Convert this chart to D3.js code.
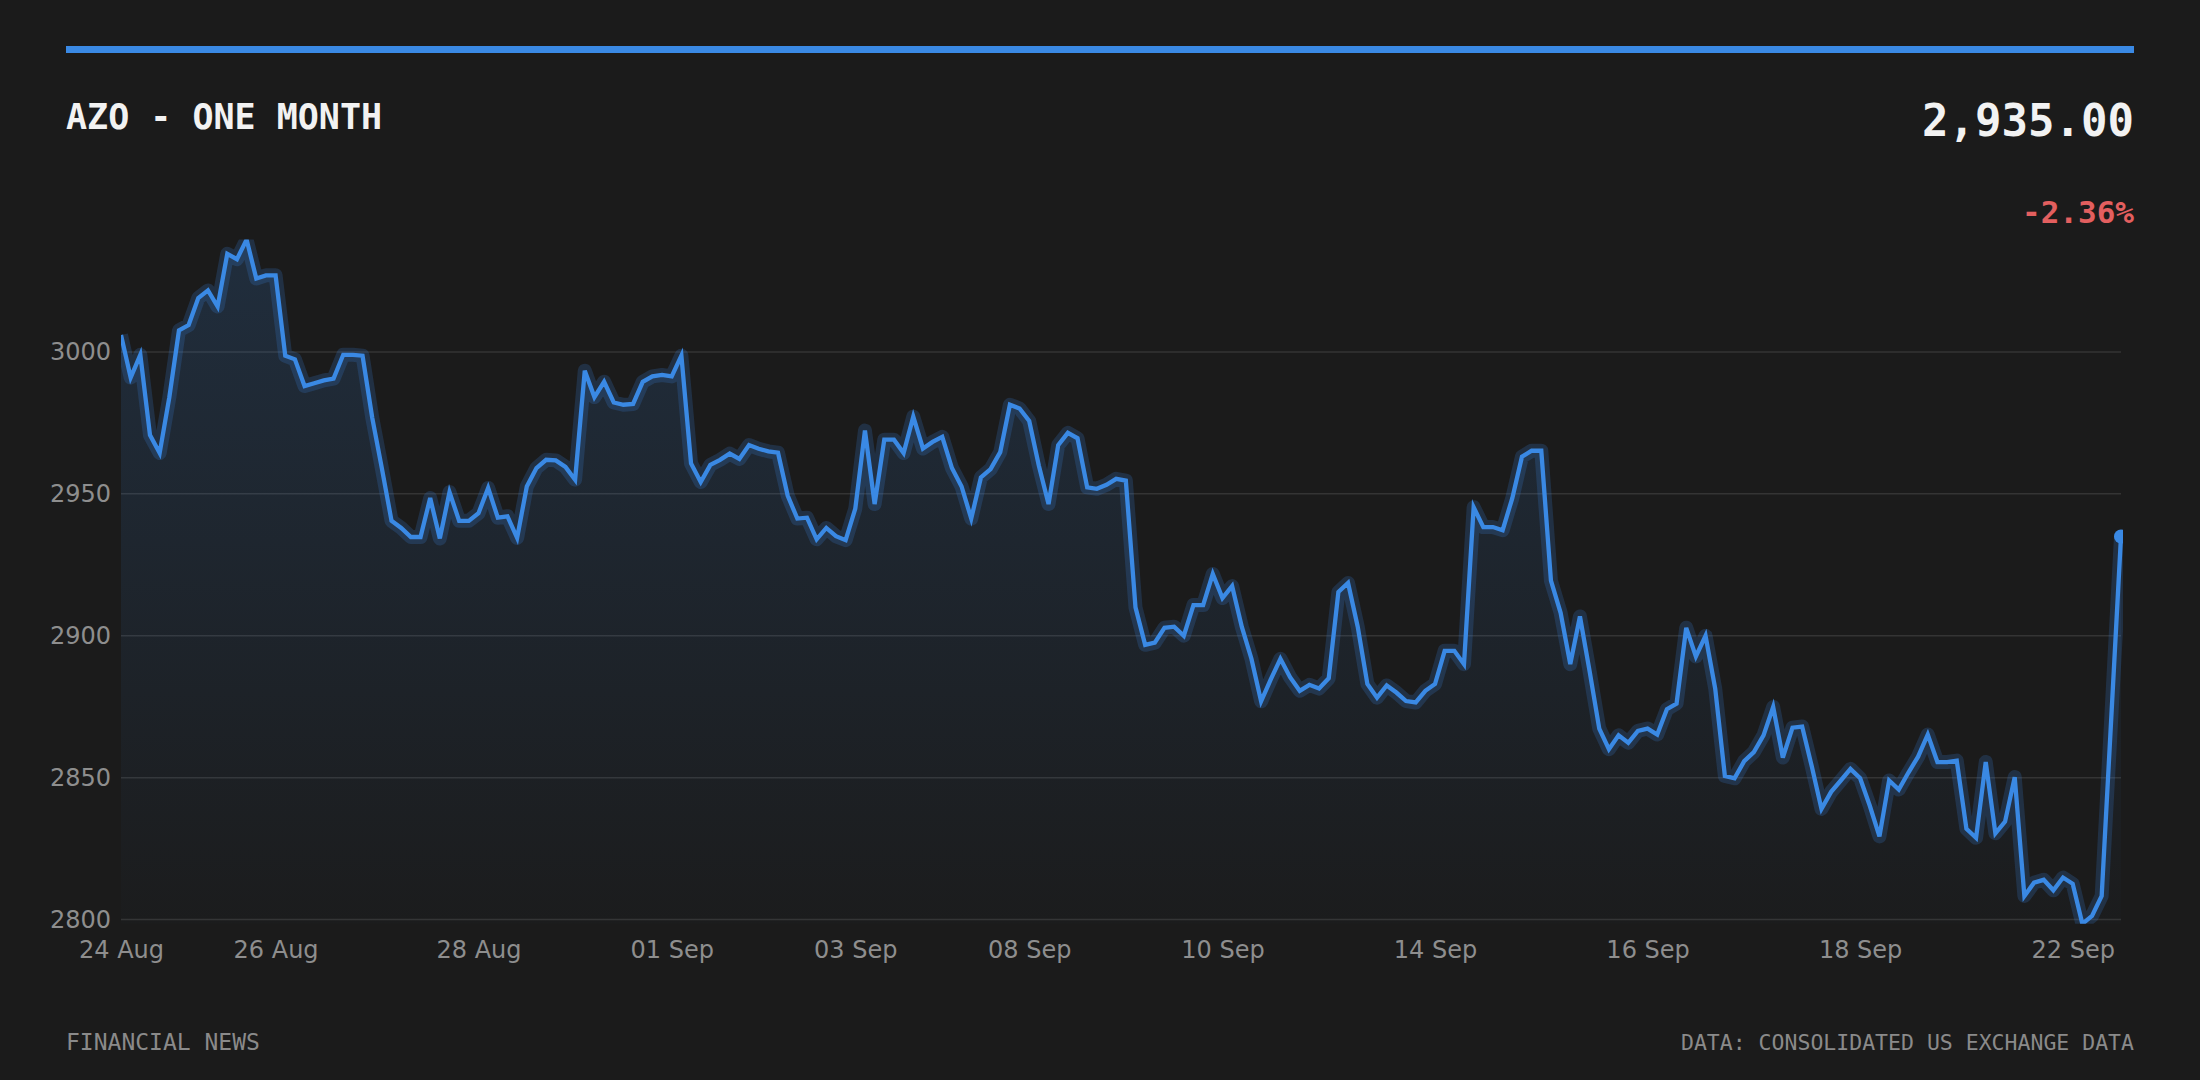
<!DOCTYPE html>
<html>
<head>
<meta charset="utf-8">
<script src="https://cdn.jsdelivr.net/npm/d3@7"></script>
<style>
    html, body { margin: 0; padding: 0; background: #1b1b1b; }
    svg { display: block; }
</style>
</head>
<body>
<svg id="chart"></svg>
<script>
let symbol = 'AZO'
let period = 'ONE MONTH'
let sourceLeft = 'FINANCIAL NEWS'
let sourceRight = 'DATA: CONSOLIDATED US EXCHANGE DATA'

// closing prices, one per sample (about 10 per trading day)
let prices = [
    3006, 2991, 2999, 2970.7, 2964.4, 2984, 3007.6, 3009.5, 3019, 3021.7,
    3016, 3034.6, 3032.7, 3039.6, 3025.9, 3027, 3027, 2998.7, 2997.4, 2988,
    2989, 2990, 2990.6, 2999, 2999, 2998.7, 2976.9, 2959, 2940.5, 2938,
    2934.8, 2934.8, 2948.5, 2934.3, 2950.6, 2940.5, 2940.5, 2943.2, 2952.1, 2941.6,
    2942.1, 2934.5, 2952.6, 2959.1, 2962, 2961.8, 2959.5, 2955, 2993.4, 2984.1,
    2989.5, 2982.2, 2981.4, 2981.7, 2989.5, 2991.4, 2991.9, 2991.4, 2998.7, 2960.7,
    2954.2, 2960.2, 2962, 2964.2, 2962.3, 2967.2, 2965.9, 2965, 2964.5, 2949.4,
    2941.3, 2941.6, 2934, 2938, 2935.1, 2933.7, 2944.8, 2972.3, 2946.4, 2969.1,
    2969.1, 2964.4, 2977.2, 2966, 2968.3, 2970.1, 2959.1, 2952.6, 2941.3, 2955.8,
    2958.7, 2964.7, 2981.4, 2980.1, 2975.7, 2959.9, 2946.4, 2967.2, 2971.5, 2969.6,
    2952.3, 2951.8, 2953.2, 2955.3, 2954.7, 2910, 2896.8, 2897.6, 2902.8, 2903.2,
    2900, 2910.8, 2910.8, 2921.8, 2913.3, 2917.5, 2903.2, 2891.9, 2876.9, 2884.6,
    2891.9, 2885.4, 2880.6, 2882.7, 2881.4, 2885, 2915.4, 2918.6, 2903.2, 2883,
    2878.2, 2882.5, 2880, 2877, 2876.5, 2880.6, 2883, 2894.7, 2894.7, 2890,
    2945.3, 2938.3, 2938.3, 2937.2, 2948.5, 2963.1, 2965.2, 2965.2, 2919.4, 2908.1,
    2890, 2906.8, 2887.5, 2867.3, 2860, 2864.9, 2862.3, 2866.5, 2867.3, 2865.2,
    2874.1, 2876.1, 2902.8, 2892.7, 2900, 2881.4, 2850.6, 2849.8, 2855.8, 2859,
    2864.9, 2874.9, 2857.1, 2867.6, 2868, 2853.9, 2839, 2845, 2849, 2853.1,
    2849.8, 2840.1, 2829.3, 2849, 2845.8, 2851.8, 2857.4, 2865.2, 2855.5, 2855.5,
    2856, 2832, 2828.8, 2855.5, 2830.4, 2834.5, 2850.2, 2808.3, 2813, 2814,
    2810.3, 2814.8, 2812.6, 2798.5, 2801.3, 2808.3, 2871.5, 2935
]

// sample index where each labelled day starts
let tickIndexes = [0, 16, 37, 57, 76, 94, 114, 136, 158, 180, 202]
let tickLabels = ['24 Aug', '26 Aug', '28 Aug', '01 Sep', '03 Sep', '08 Sep',
                  '10 Sep', '14 Sep', '16 Sep', '18 Sep', '22 Sep']

let yTicks = [2800, 2850, 2900, 2950, 3000]

let width = 2200
let height = 1080
let margin = { top: 239.6, right: 79, bottom: 156.2, left: 121 }
let edge = 66

let blue = '#3a89e4'
let mono = '"DejaVu Sans Mono", "Liberation Mono", monospace'
let sans = '"DejaVu Sans", Verdana, sans-serif'

let svg = d3.select('#chart')
let xScale
let yScale

let drawCanvas = () => {
    svg.attr('width', width)
       .attr('height', height)

    svg.append('rect')
        .attr('width', width)
        .attr('height', height)
        .attr('fill', '#1b1b1b')

    // line is cut at the plot edges, like the original
    svg.append('defs')
        .append('clipPath')
        .attr('id', 'plot-clip')
        .append('rect')
        .attr('x', margin.left)
        .attr('y', margin.top)
        .attr('width', width - margin.left - margin.right + 2)
        .attr('height', height - margin.top - margin.bottom)
}

let generateScales = () => {
    xScale = d3.scaleLinear()
                .domain([0, prices.length - 1])
                .range([margin.left, width - margin.right])

    yScale = d3.scaleLinear()
                .domain(d3.extent(prices))
                .range([height - margin.bottom, margin.top])
}

let drawHeader = () => {
    svg.append('rect')
        .attr('x', edge)
        .attr('y', 46)
        .attr('width', width - edge * 2)
        .attr('height', 7)
        .attr('fill', blue)

    svg.append('text')
        .attr('x', edge)
        .attr('y', 129)
        .attr('font-family', mono)
        .attr('font-weight', 'bold')
        .attr('font-size', 35)
        .attr('fill', '#f2f2f2')
        .text(symbol + ' - ' + period)

    let last = prices[prices.length - 1]
    let change = (last / prices[0] - 1) * 100

    svg.append('text')
        .attr('x', width - edge)
        .attr('y', 136)
        .attr('text-anchor', 'end')
        .attr('font-family', mono)
        .attr('font-weight', 'bold')
        .attr('font-size', 44)
        .attr('fill', '#f2f2f2')
        .text(d3.format(',.2f')(last))

    svg.append('text')
        .attr('x', width - edge)
        .attr('y', 223)
        .attr('text-anchor', 'end')
        .attr('font-family', mono)
        .attr('font-weight', 'bold')
        .attr('font-size', 31)
        .attr('fill', change < 0 ? '#e35f5f' : '#3fbf6f')
        .text((change > 0 ? '+' : '') + change.toFixed(2) + '%')
}

let generateAxes = () => {
    svg.append('g')
        .attr('class', 'grid')
        .selectAll('line')
        .data(yTicks)
        .enter()
        .append('line')
        .attr('x1', margin.left)
        .attr('x2', width - margin.right)
        .attr('y1', d => yScale(d))
        .attr('y2', d => yScale(d))
        .attr('stroke', '#343434')
        .attr('stroke-width', 1.5)

    let yAxis = d3.axisLeft(yScale)
                    .tickValues(yTicks)
                    .tickFormat(d3.format('d'))
                    .tickSize(0)
                    .tickPadding(10)

    let xAxis = d3.axisBottom(xScale)
                    .tickValues(tickIndexes)
                    .tickFormat((d, i) => tickLabels[i])
                    .tickSize(0)
                    .tickPadding(17)

    svg.append('g')
        .attr('id', 'y-axis')
        .attr('transform', 'translate(' + margin.left + ', 0)')
        .call(yAxis)

    svg.append('g')
        .attr('id', 'x-axis')
        .attr('transform', 'translate(0, ' + (height - margin.bottom) + ')')
        .call(xAxis)

    svg.selectAll('#x-axis, #y-axis')
        .attr('font-family', sans)
        .attr('font-size', 24)
    svg.selectAll('#x-axis .domain, #y-axis .domain').remove()
    svg.selectAll('#x-axis text, #y-axis text').attr('fill', '#8e8e8e')
}

let drawLine = () => {
    let grad = svg.select('defs')
                    .append('linearGradient')
                    .attr('id', 'fade')
                    .attr('x1', 0).attr('y1', 0)
                    .attr('x2', 0).attr('y2', 1)
    grad.append('stop').attr('offset', '0%').attr('stop-color', blue).attr('stop-opacity', 0.17)
    grad.append('stop').attr('offset', '100%').attr('stop-color', blue).attr('stop-opacity', 0.01)

    let area = d3.area()
                    .x((d, i) => xScale(i))
                    .y0(height - margin.bottom)
                    .y1(d => yScale(d))

    let line = d3.line()
                    .x((d, i) => xScale(i))
                    .y(d => yScale(d))

    let plot = svg.append('g')
                    .attr('clip-path', 'url(#plot-clip)')

    plot.append('path')
        .datum(prices)
        .attr('d', area)
        .attr('fill', 'url(#fade)')

    plot.append('path')
        .datum(prices)
        .attr('d', line)
        .attr('fill', 'none')
        .attr('stroke', blue)
        .attr('stroke-opacity', 0.2)
        .attr('stroke-width', 14)
        .attr('stroke-linejoin', 'round')

    plot.append('path')
        .datum(prices)
        .attr('d', line)
        .attr('fill', 'none')
        .attr('stroke', blue)
        .attr('stroke-width', 4.3)

    let lastIdx = prices.length - 1
    plot.append('circle')
        .attr('cx', xScale(lastIdx))
        .attr('cy', yScale(prices[lastIdx]))
        .attr('r', 7)
        .attr('fill', blue)
}

let drawFooter = () => {
    svg.append('text')
        .attr('x', edge)
        .attr('y', 1050)
        .attr('font-family', mono)
        .attr('font-size', 23)
        .attr('fill', '#8a8a8a')
        .text(sourceLeft)

    svg.append('text')
        .attr('x', width - edge)
        .attr('y', 1050)
        .attr('text-anchor', 'end')
        .attr('font-family', mono)
        .attr('font-size', 21.5)
        .attr('fill', '#8a8a8a')
        .text(sourceRight)
}

drawCanvas()
generateScales()
drawHeader()
generateAxes()
drawLine()
drawFooter()
</script>
</body>
</html>
